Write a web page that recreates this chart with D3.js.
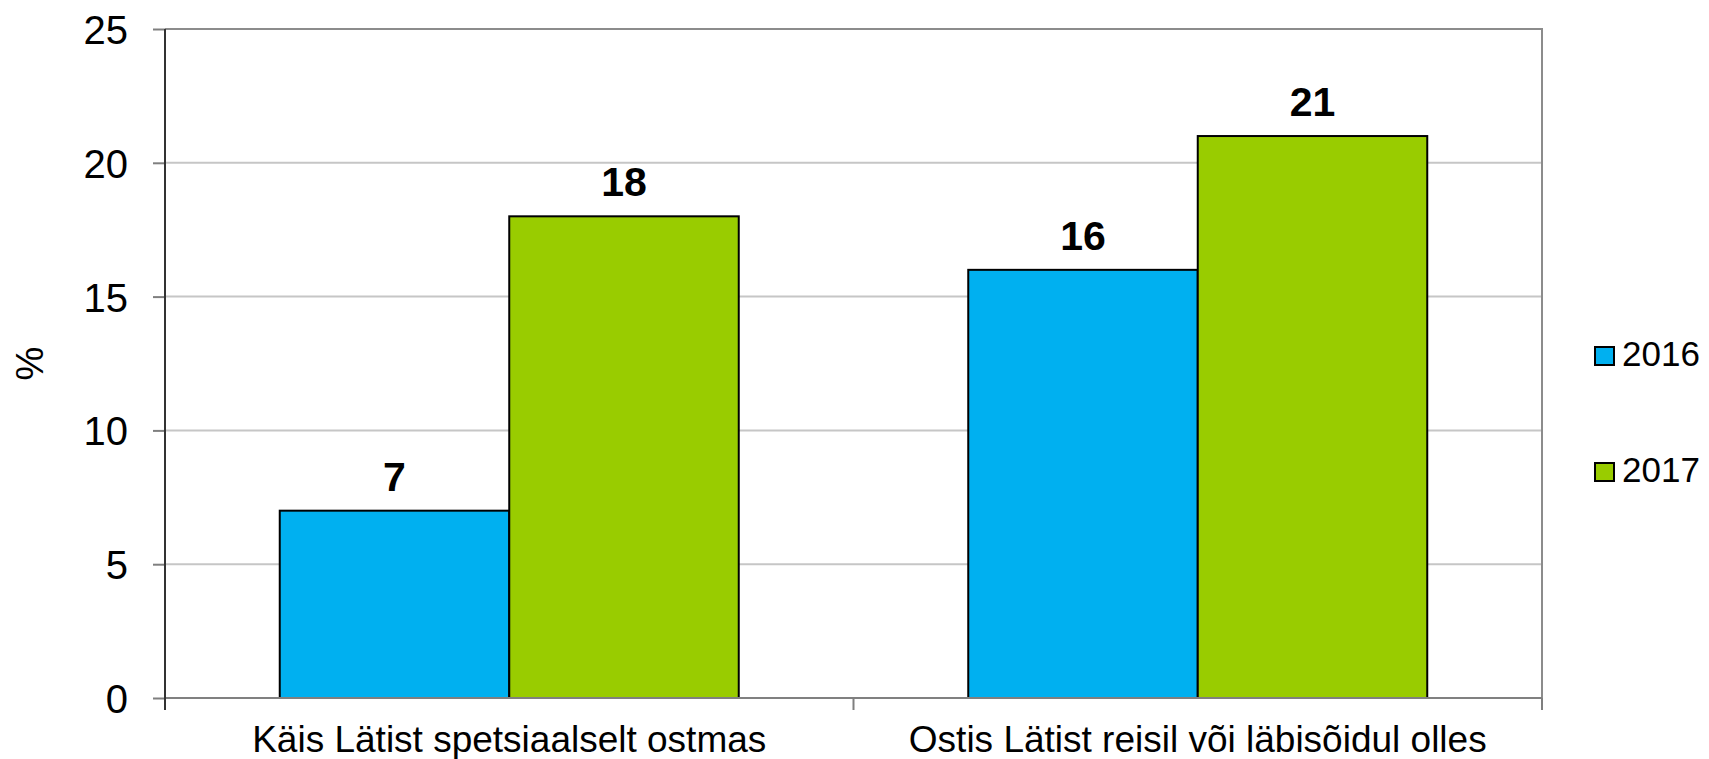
<!DOCTYPE html>
<html>
<head>
<meta charset="utf-8">
<style>
  body { margin: 0; background: #fff; }
  svg { display: block; font-family: "Liberation Sans", Arial, sans-serif; }
</style>
</head>
<body>
<svg id="chart" width="1709" height="759"></svg>
<script src="https://d3js.org/d3.v7.min.js"></script>
<script>

var categories = ["Käis Lätist spetsiaalselt ostmas", "Ostis Lätist reisil või läbisõidul olles"];
var years = ["2016", "2017"];
var values2016 = [7, 16];
var values2017 = [18, 21];
var yTicks = [0, 5, 10, 15, 20, 25];
var colors = ["#00b0f0", "#99cc00"];

var svg = d3.select("#chart"),
    margin = {top: 29, right: 167, bottom: 61, left: 165},
    width = +svg.attr("width") - margin.left - margin.right,
    height = +svg.attr("height") - margin.top - margin.bottom,
    g = svg.append("g").attr("transform", "translate(" + margin.left + "," + margin.top + ")");

var series = [values2016, values2017];

var x0 = d3.scaleBand()
    .domain(categories)
    .range([0, width]);

var bw = x0.bandwidth();
var x1 = d3.scaleBand()
    .domain(years)
    .range([bw / 6, bw * 5 / 6]);

var y = d3.scaleLinear()
    .domain([0, 25])
    .range([height, 0]);

var color = d3.scaleOrdinal().domain(years).range(colors);

// gridlines
g.append("g")
  .selectAll("line")
  .data(yTicks.filter(function(d) { return d > 0 && d < 25; }))
  .enter().append("line")
    .attr("x1", 0)
    .attr("x2", width)
    .attr("y1", function(d) { return y(d); })
    .attr("y2", function(d) { return y(d); })
    .attr("stroke", "#c6c6c6")
    .attr("stroke-width", 2);

// top and right border
g.append("path")
    .attr("d", "M0," + y(25) + "H" + width + "V" + height)
    .attr("fill", "none")
    .attr("stroke", "#8c8c8c")
    .attr("stroke-width", 2);

// bars
var rows = categories.map(function(c, i) {
  return years.map(function(yr, j) { return {cat: c, year: yr, value: series[j][i]}; });
});

var groups = g.append("g")
  .selectAll("g")
  .data(rows)
  .enter().append("g")
    .attr("transform", function(d, i) { return "translate(" + x0(categories[i]) + ",0)"; });

groups.selectAll("rect")
  .data(function(d) { return d; })
  .enter().append("rect")
    .attr("x", function(d) { return x1(d.year); })
    .attr("y", function(d) { return y(d.value); })
    .attr("width", x1.bandwidth())
    .attr("height", function(d) { return height - y(d.value); })
    .attr("fill", function(d) { return color(d.year); })
    .attr("stroke", "#000")
    .attr("stroke-width", 2);

groups.selectAll("text.val")
  .data(function(d) { return d; })
  .enter().append("text")
    .attr("class", "val")
    .attr("x", function(d) { return x1(d.year) + x1.bandwidth() / 2; })
    .attr("y", function(d) { return y(d.value) - 20; })
    .attr("text-anchor", "middle")
    .attr("font-size", 41)
    .attr("font-weight", "bold")
    .attr("fill", "#000")
    .text(function(d) { return d.value; });

// y axis
var yAxis = g.append("g")
    .call(d3.axisLeft(y).tickValues(yTicks).tickSize(12).tickPadding(25));
yAxis.select(".domain").remove();
yAxis.selectAll(".tick line").attr("stroke", "#7f7f7f").attr("stroke-width", 2);
yAxis.selectAll(".tick text")
    .attr("font-size", 40)
    .attr("font-family", "Liberation Sans, Arial, sans-serif")
    .attr("fill", "#000")
    .attr("dy", "0.36em");

// x axis
var xAxis = g.append("g")
    .attr("transform", "translate(0," + height + ")")
    .call(d3.axisBottom(x0).tickSize(0).tickPadding(0));
xAxis.select(".domain").remove();
xAxis.selectAll(".tick text")
    .attr("font-size", 37)
    .attr("font-family", "Liberation Sans, Arial, sans-serif")
    .attr("fill", "#000")
    .attr("y", 54)
    .attr("dy", 0);

g.append("line")
    .attr("x1", 0).attr("x2", width)
    .attr("y1", height).attr("y2", height)
    .attr("stroke", "#808080")
    .attr("stroke-width", 2);

// category separator ticks
g.append("g")
  .selectAll("line")
  .data([0, width / 2, width])
  .enter().append("line")
    .attr("x1", function(d) { return d; })
    .attr("x2", function(d) { return d; })
    .attr("y1", height)
    .attr("y2", height + 12)
    .attr("stroke", "#7f7f7f")
    .attr("stroke-width", 2);

// left axis line
g.append("line")
    .attr("x1", 0).attr("x2", 0)
    .attr("y1", 0).attr("y2", height + 12)
    .attr("stroke", "#333")
    .attr("stroke-width", 2);

// y label
svg.append("text")
    .attr("transform", "translate(43," + (margin.top + height / 2) + ") rotate(-90)")
    .attr("text-anchor", "middle")
    .attr("font-size", 38)
    .attr("fill", "#000")
    .text("%");

// legend
var legend = svg.append("g")
  .selectAll("g")
  .data(years)
  .enter().append("g")
    .attr("transform", function(d, i) { return "translate(1595," + (347 + i * 116) + ")"; });

legend.append("rect")
    .attr("width", 19)
    .attr("height", 18)
    .attr("fill", function(d) { return color(d); })
    .attr("stroke", "#000")
    .attr("stroke-width", 2);

legend.append("text")
    .attr("x", 27)
    .attr("y", 19)
    .attr("font-size", 35)
    .attr("fill", "#000")
    .text(function(d) { return d; });

</script>
</body>
</html>
